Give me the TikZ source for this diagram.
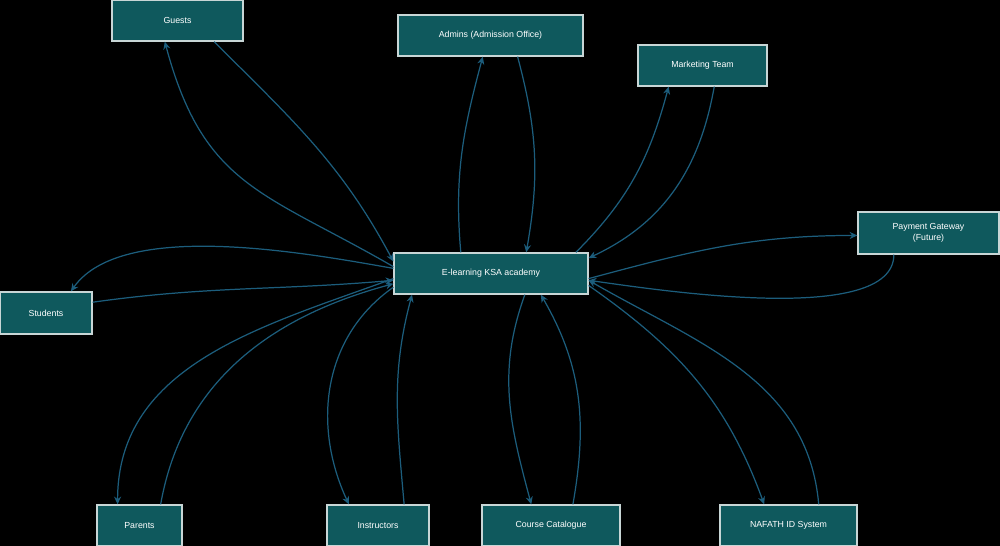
\documentclass[tikz,border=0pt]{standalone}
\usepackage{fontspec}
\setmainfont{Liberation Sans}
\usetikzlibrary{arrows.meta,positioning}
\definecolor{boxfill}{RGB}{15,89,93}
\definecolor{boxline}{RGB}{200,214,214}
\definecolor{wire}{RGB}{28,93,124}
\begin{document}
\begin{tikzpicture}[x=0.02cm,y=0.02cm,>={Stealth[length=4.4pt,width=4pt]},
    blk/.style={draw=boxline,line width=0.75pt,fill=boxfill,text=white,
      font=\fontsize{5}{6.4}\selectfont,minimum height=0.82cm,inner sep=1pt,align=center},
    every edge/.style={draw=wire,line width=0.7pt}]
\fill[black] (0,0) rectangle (1000,546);
\useasboundingbox (0,0) rectangle (1000,546);
                        \node[blk,minimum width=3.88cm] (KSA) at (491,272.5) {E-learning KSA academy};
                        \node[blk,minimum width=2.62cm] (Guest) at (177.5,525.5) {Guests};
                        \node[blk,minimum width=3.7cm] (Admin) at (490.5,510.5) {Admins (Admission Office)};
                        \node[blk,minimum width=2.58cm] (Mkt) at (702.5,480.5) {Marketing Team};
                        \node[blk,minimum width=2.82cm,minimum height=0.84cm] (Pay) at (928.5,313) {Payment Gateway\\(Future)};
                        \node[blk,minimum width=1.84cm,minimum height=0.84cm] (Stud) at (46,233) {Students};
                        \node[blk,minimum width=1.7cm] (Par) at (139.5,20.5) {Parents};
                        \node[blk,minimum width=2.04cm] (Ins) at (378,20.5) {Instructors};
                        \node[blk,minimum width=2.76cm] (Cat) at (551,20.5) {Course Catalogue};
                        \node[blk,minimum width=2.74cm] (Naf) at (788.5,20.5) {NAFATH ID System};
                        % out of the academy
                        \path[->]
                            (KSA.176) edge [out=150,in=-75,looseness=1.2] (Guest.239)
                            (KSA.145) edge [out=95,in=-105] (Admin.250)
                            (KSA.14) edge [out=45,in=-105] (Mkt.212)
                            (KSA.-3) edge [out=15,in=180] (Pay.182)
                            (KSA.177) edge [out=170,in=55,looseness=0.7] (Stud.41)
                            (KSA.183) edge [out=200,in=90] (Par.136)
                            (KSA.188) edge [out=215,in=115] (Ins.144)
                            (KSA.328) edge [out=250,in=105] (Cat.133)
                            (KSA.-7) edge [out=-35,in=110] (Naf.139);
                        % into the academy
                        \path[->]
                            (Guest.330) edge [out=-45,in=118] (KSA.173)
                            (Admin.322) edge [out=-75,in=80] (KSA.31)
                            (Mkt.299) edge [out=-100,in=25] (KSA.9)
                            (Pay.212) edge [out=-90,in=-8,looseness=0.6] (KSA.-4)
                            (Stud.13) edge [out=8,in=185] (KSA.184)
                            (Par.45) edge [out=80,in=195] (KSA.186)
                            (Ins.39) edge [out=95,in=-105] (KSA.195)
                            (Cat.44) edge [out=80,in=-60] (KSA.337)
                            (Naf.35) edge [out=95,in=-30] (KSA.-4);
                    \end{tikzpicture}
\end{document}
